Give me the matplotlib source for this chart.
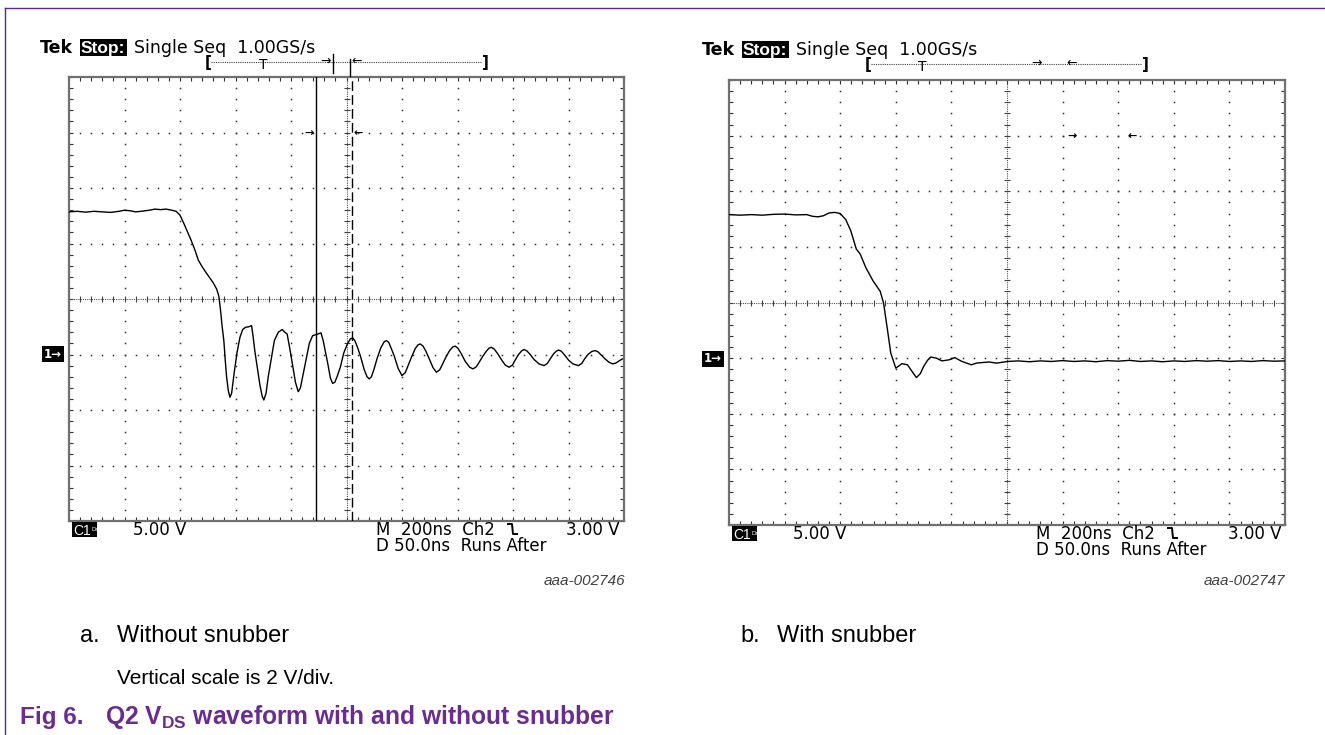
import matplotlib
matplotlib.use('Agg')
import matplotlib.pyplot as plt
from matplotlib.lines import Line2D
from matplotlib.patches import Rectangle
import numpy as np

W, H = 1325, 735
plt.rcParams['font.family'] = ['DejaVu Sans']
plt.rcParams['mathtext.fontset'] = 'custom'
plt.rcParams['mathtext.rm'] = 'Liberation Sans'
plt.rcParams['mathtext.bf'] = 'Liberation Sans:bold'

# ---------------- data (time in ns, Vds in V, ground = 0 V) ----------------
time_a_ns = [0, 30, 60, 90, 120, 150, 180, 200, 220, 240, 260, 290, 310, 330, 350, 370, 386,
             400, 414, 428, 440, 454, 466, 480, 492, 506, 520, 532, 540, 546, 552, 558, 563, 568,
             574, 580, 586, 591, 596, 606, 616, 626, 636, 648, 658, 664, 670, 676, 688, 696, 702,
             710, 718, 728, 740, 754, 768, 778, 786, 796, 806, 816, 826, 834, 842, 852, 866, 878,
             892, 908, 916, 924, 932, 942, 950, 958, 966, 978, 990, 1004, 1014, 1022, 1030, 1040,
             1050, 1064, 1074, 1082, 1090, 1100, 1110, 1124, 1136, 1144, 1152, 1160, 1172, 1186,
             1200, 1212, 1222, 1234, 1248, 1258, 1266, 1276, 1286, 1298, 1312, 1324, 1336, 1346,
             1358, 1372, 1384, 1392, 1402, 1414, 1428, 1444, 1456, 1468, 1478, 1490, 1504, 1514,
             1522, 1532, 1544, 1558, 1572, 1586, 1598, 1608, 1620, 1632, 1640, 1650, 1662, 1676,
             1694, 1712, 1724, 1734, 1746, 1756, 1764, 1774, 1786, 1800, 1816, 1836, 1848, 1858,
             1870, 1884, 1896, 1906, 1918, 1932, 1946, 1960, 1972, 1984, 1994]
vds_a_V = [5.14, 5.16, 5.13, 5.16, 5.14, 5.12, 5.16, 5.20, 5.18, 5.14, 5.16, 5.20, 5.24, 5.22, 5.24, 5.20, 5.16,
           5.02, 4.72, 4.40, 4.12, 3.76, 3.40, 3.16, 2.98, 2.78, 2.58, 2.36, 2.10, 1.60, 1.00, 0.50, -0.20, -0.82,
           -1.30, -1.54, -1.40, -1.00, -0.60, 0.10, 0.62, 0.90, 0.98, 1.00, 1.04, 0.60, 0.10, -0.30, -1.10, -1.50, -1.64,
           -1.40, -0.80, -0.20, 0.50, 0.80, 0.90, 0.80, 0.74, 0.20, -0.40, -1.00, -1.34, -1.20, -0.80, -0.30, 0.40, 0.68,
           0.72, 0.78, 0.50, 0.10, -0.30, -0.85, -1.04, -1.00, -0.80, -0.45, 0.05, 0.40, 0.56, 0.60, 0.50, 0.25,
           -0.05, -0.55, -0.80, -0.88, -0.80, -0.50, -0.15, 0.25, 0.46, 0.50, 0.44, 0.25, -0.05, -0.50,
           -0.76, -0.65, -0.40, -0.10, 0.22, 0.35, 0.38, 0.30, 0.12, -0.15, -0.48, -0.64, -0.55, -0.35,
           -0.10, 0.15, 0.28, 0.30, 0.22, 0.02, -0.25, -0.46, -0.52, -0.44, -0.28, -0.08, 0.12, 0.23,
           0.26, 0.20, 0.04, -0.18, -0.38, -0.46, -0.38, -0.20, 0.00, 0.14, 0.18, 0.13, 0.00, -0.18,
           -0.34, -0.40, -0.32, -0.16, 0.02, 0.12, 0.16, 0.12, -0.02, -0.20, -0.34, -0.40, -0.32, -0.16,
           0.00, 0.11, 0.14, 0.10, -0.02, -0.16, -0.28, -0.34, -0.30, -0.22, -0.16]

time_b_ns = [0, 40, 80, 120, 160, 200, 240, 280, 300, 320, 340, 360, 380, 400,
             420, 438, 458, 472, 492, 518, 544, 556, 570, 582, 600, 622, 642, 660, 674, 688,
             700, 714, 726, 746, 766, 792, 812, 838, 872, 890, 910, 936, 962, 1002,
             1040, 1080, 1120, 1160, 1200, 1240, 1280, 1320, 1360, 1400, 1440, 1480, 1520,
             1560, 1600, 1640, 1680, 1720, 1760, 1800, 1840, 1880, 1920, 1960, 2000]
vds_b_V = [5.16, 5.14, 5.16, 5.14, 5.17, 5.18, 5.15, 5.16, 5.10, 5.08, 5.12, 5.22, 5.24, 5.20,
           4.98, 4.58, 3.92, 3.74, 3.26, 2.78, 2.40, 1.98, 1.02, 0.18, -0.36, -0.20, -0.24, -0.50, -0.70, -0.56,
           -0.30, -0.08, 0.04, 0.00, -0.10, -0.06, 0.02, -0.12, -0.24, -0.18, -0.16, -0.14, -0.18, -0.12,
           -0.10, -0.13, -0.10, -0.12, -0.09, -0.12, -0.10, -0.13, -0.09, -0.11, -0.08, -0.12, -0.10,
           -0.13, -0.10, -0.12, -0.09, -0.11, -0.09, -0.12, -0.10, -0.12, -0.09, -0.11, -0.10]

cursor_a_ns = [890, 1020]          # solid / dashed cursor positions
header_text = "Single Seq  1.00GS/s"
scale_text = "5.00 V"
time_text = "M  200ns  Ch2"
trig_text = "3.00 V"
delay_text = "D 50.0ns  Runs After"
figure_ids = ["aaa-002746", "aaa-002747"]
sub_labels = [("a.", "Without snubber"), ("b.", "With snubber")]
note_text = "Vertical scale is 2 V/div."

T_DIV = 200.0   # ns / div
V_DIV = 2.0     # V / div
CENTER_V = 1 * V_DIV   # screen centre is one division above ground

fig = plt.figure(figsize=(W / 100, H / 100), dpi=100)


def fx(x):
    return x / W


def fy(y):
    return 1 - y / H


def fline(xs, ys, **kw):
    fig.add_artist(Line2D([fx(x) for x in xs], [fy(y) for y in ys], **kw))


def frect(x0, y0, x1, y1, **kw):
    fig.add_artist(Rectangle((fx(x0), fy(y1)), (x1 - x0) / W, (y1 - y0) / H, **kw))


def scope(rect, t, v):
    ax = fig.add_axes(rect)
    ax.set_xlim(0, 10 * T_DIV)
    ax.set_ylim(CENTER_V - 4 * V_DIV, CENTER_V + 4 * V_DIV)
    # dotted graticule
    xmin = np.arange(1, 50) * T_DIV / 5
    ymin = CENTER_V - 4 * V_DIV + np.arange(1, 40) * V_DIV / 5
    for i in range(1, 10):
        if i == 5:
            continue
        ax.plot(np.full_like(ymin, i * T_DIV), ymin, ls='none', marker='s', ms=1.1,
                mec='none', mfc='#303030')
    for k in range(-3, 4):
        if k == 0:
            continue
        ax.plot(xmin, np.full_like(xmin, CENTER_V + k * V_DIV), ls='none', marker='s', ms=1.1,
                mec='none', mfc='#303030')
    # centre cross with minor ticks
    ax.axhline(CENTER_V, color='#505050', lw=0.8, ls=(0, (1, 1)))
    ax.axvline(5 * T_DIV, color='#505050', lw=0.8, ls=(0, (1, 1)))
    ax.plot(xmin, np.full_like(xmin, CENTER_V), ls='none', marker='|', ms=5, mew=0.8, color='#404040')
    ax.plot(np.full_like(ymin, 5 * T_DIV), ymin, ls='none', marker='_', ms=5, mew=0.8, color='#404040')
    # border ticks
    ax.set_xticks(np.arange(0, 10 * T_DIV + 1, T_DIV / 5))
    ax.set_yticks(CENTER_V - 4 * V_DIV + np.arange(0, 41) * V_DIV / 5)
    ax.tick_params(direction='in', length=3, width=0.8, color='#303030',
                   top=True, right=True, labelbottom=False, labelleft=False)
    for s in ax.spines.values():
        s.set_color('#707070')
        s.set_linewidth(1.6)
    ax.plot(t, v, color='black', lw=1.0, zorder=5)
    return ax


axA = scope([69 / W, 1 - 521 / H, 555 / W, 444 / H], time_a_ns, vds_a_V)
axB = scope([729 / W, 1 - 525 / H, 556 / W, 445 / H], time_b_ns, vds_b_V)

# cursors on plot a
axA.axvline(cursor_a_ns[0], color='black', lw=1.0, zorder=4)
axA.axvline(cursor_a_ns[1], color='black', lw=1.0, ls=(0, (7, 3)), zorder=4)


def scope_labels(x0, y0, box_l, box_r, box_b, bracket, arrows_in, gnd_y):
    # header
    fig.text(fx(x0), fy(y0), "Tek", fontsize=12.5, fontweight='bold', va='baseline')
    frect(x0 + 40, y0 - 14, x0 + 87, y0 + 3, fc='black', ec='none')
    fig.text(fx(x0 + 41), fy(y0), "Stop:", fontsize=12.5, fontweight='bold', color='white',
             va='baseline', family='Liberation Sans')
    fig.text(fx(x0 + 94), fy(y0), header_text, fontsize=12.5, va='baseline')
    # record-length bracket
    by = y0 + 9
    bl, bt, ba1, ba2, br = bracket
    fline([bl + 3, br - 3], [by, by], color='#404040', lw=0.8, ls=(0, (1, 1)))
    fig.text(fx(bl), fy(by), "[", fontsize=11, fontweight='bold', ha='center', va='center')
    fig.text(fx(br), fy(by), "]", fontsize=11, fontweight='bold', ha='center', va='center')
    fig.text(fx(bt), fy(by - 4), "T", fontsize=10, ha='center', va='top')
    fig.text(fx(ba1), fy(by - 1), "→", fontsize=9, ha='center', va='center')
    fig.text(fx(ba2), fy(by - 1), "←", fontsize=9, ha='center', va='center')
    # in-screen arrows
    for (ax_, ay_, s) in arrows_in:
        fig.text(fx(ax_), fy(ay_), s, fontsize=8, ha='center', va='center', fontweight='bold')
    # ground marker
    fig.text(fx(box_l - 16), fy(gnd_y), "1→", fontsize=8.5, fontweight='bold', color='white',
             ha='center', va='center', bbox=dict(boxstyle='square,pad=0.15', fc='black', ec='none'))
    # bottom readouts
    yb = box_b + 14
    frect(box_l + 3, yb - 13, box_l + 28, yb + 2, fc='black', ec='none')
    fig.text(fx(box_l + 4), fy(yb), "C1", fontsize=10, color='white', va='baseline',
             family='Liberation Sans')
    fig.text(fx(box_l + 22.5), fy(yb - 4), "Ds", fontsize=4.5, color='white', va='baseline',
             family='Liberation Sans')
    fig.text(fx(box_l + 64), fy(yb), scale_text, fontsize=12, va='baseline')
    fig.text(fx(box_l + 307), fy(yb), time_text, fontsize=12, va='baseline')
    fig.text(fx(box_r - 4), fy(yb), trig_text, fontsize=12, va='baseline', ha='right')
    gx = box_l + 439
    fline([gx, gx + 4, gx + 5, gx + 9], [yb - 11, yb - 11, yb - 1, yb - 1], color='black', lw=1.4)
    fig.text(fx(box_l + 307), fy(yb + 16), delay_text, fontsize=12, va='baseline')


scope_labels(40, 53, 69, 624, 521, (208, 263, 326, 357, 485),
             [(309, 133, "→"), (358, 133, "←")], 354)
fline([333, 333], [54, 73], color='black', lw=1.0)
fline([350, 350], [59, 76], color='black', lw=1.0)
scope_labels(702, 55, 729, 1285, 525, (868, 922, 1037, 1072, 1145),
             [(1072, 136, "→"), (1132, 136, "←")], 359)

fig.text(fx(625), fy(585), figure_ids[0], fontsize=11, style='italic', color='#404040',
         ha='right', va='baseline', family='Liberation Sans')
fig.text(fx(1285), fy(585), figure_ids[1], fontsize=11, style='italic', color='#404040',
         ha='right', va='baseline', family='Liberation Sans')

# captions
for (lab, txt), x0 in zip(sub_labels, [80, 740]):
    fig.text(fx(x0), fy(642), lab, fontsize=17, family='Liberation Sans', va='baseline')
    fig.text(fx(x0 + 37), fy(642), txt, fontsize=17, family='Liberation Sans', va='baseline')
fig.text(fx(117), fy(684), note_text, fontsize=15, family='Liberation Sans', va='baseline')

purple = '#6b2c8f'
fig.text(fx(20), fy(724), "Fig 6.", fontsize=17.5, fontweight='bold', family='Liberation Sans',
         color=purple, va='baseline')
fig.text(fx(105), fy(724), r"Q2 V$_{\mathbf{DS}}$ waveform with and without snubber", fontsize=17.7,
         fontweight='bold', family='Liberation Sans', color=purple, va='baseline')

# outer frame
fline([5, 5], [7.5, 735], color='#5b2a80', lw=1.0)
fline([5, 1325], [7.5, 7.5], color='#5b2a80', lw=1.0)

fig.savefig('out.png', dpi=100)
